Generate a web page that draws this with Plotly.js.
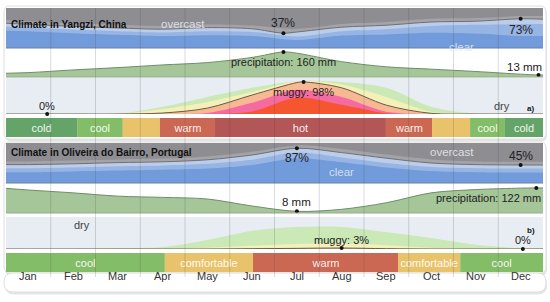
<!DOCTYPE html>
<html><head><meta charset="utf-8">
<script src="https://cdn.plot.ly/plotly-3.0.1.min.js"></script>
<style>html,body{margin:0;padding:0;background:#fff;}#chart{width:550px;height:302px;}</style>
</head><body><div id="chart"></div>
<script>
// ---------- DATA ----------
const months = ['Jan','Feb','Mar','Apr','May','Jun','Jul','Aug','Sep','Oct','Nov','Dec'];
// sample positions (month units): year start, mid-months, year end
const xs = [0, 0.5, 1.5, 2.5, 3.5, 4.5, 5.5, 6.5, 7.5, 8.5, 9.5, 10.5, 11.5, 12];

// Yangzi cloud cover, cumulative % from bottom
const cloudA_mostlyCloudy = [70, 67, 62, 58, 55, 59, 56, 48, 60, 65, 73, 75, 80, 80];
const cloudA_line         = [62, 59, 54, 50, 47, 51, 48, 40, 52, 57, 65, 67, 73, 72];
const cloudA_mostlyClear  = [53, 51, 46, 42, 39, 42, 40, 29, 42, 47, 55, 58, 60, 60];
const cloudA_clear        = [43, 42, 37, 33, 30, 32, 30, 20, 31, 34, 38, 36, 30, 30];
const cloudA_markX = [6.2, 11.5];
const cloudA_markV = [37, 73];

// Yangzi precipitation (mm)
const precipA = [24, 28, 45, 60, 77, 92, 125, 152, 98, 65, 50, 35, 18, 13];
const precipA_markX = [6.2, 11.9];
const precipA_markV = [160, 13];

// Yangzi humidity comfort, cumulative %
const muggyA_comfortable = [0, 0, 0, 1, 22, 52, 80, 100, 98, 80, 22, 1, 0, 0];
const muggyA_humid       = [0, 0, 0, 0, 15, 37, 67, 99.5, 90, 52, 7, 0, 0, 0];
const muggyA_muggy       = [0, 0, 0, 0, 3, 18, 58, 96, 80, 27, 2, 0, 0, 0];
const muggyA_oppressive  = [0, 0, 0, 0, 0, 3, 34, 74, 52, 7, 0, 0, 0, 0];
const muggyA_miserable   = [0, 0, 0, 0, 0, 0, 8, 50, 28, 2, 0, 0, 0, 0];
const muggyA_markX = [0.92, 6.65];
const muggyA_markV = [0, 98];

// Yangzi temperature bands
const tempA_kinds = ['cold','cool','comfortable','warm','hot','warm','comfortable','cool','cold'];
const tempA_text  = ['cold','cool','','warm','hot','warm','','cool','cold'];
const tempA_edges = [0, 1.59, 2.61, 3.44, 4.67, 8.49, 9.52, 10.37, 11.15, 12];

// Oliveira do Bairro cloud cover
const cloudB_mostlyCloudy = [54, 54, 56, 59, 61, 66, 78, 94, 85, 71, 59, 54, 53, 53];
const cloudB_line         = [46, 46, 48, 51, 53, 58, 70, 87, 76, 62, 50, 46, 45, 45];
const cloudB_mostlyClear  = [37, 37, 39, 42, 44, 48, 58, 76, 64, 50, 40, 37, 36, 36];
const cloudB_clear        = [27, 27, 29, 31, 33, 36, 45, 62, 52, 39, 30, 27, 26, 26];
const cloudB_markX = [6.5, 11.5];
const cloudB_markV = [87, 45];

// Oliveira do Bairro precipitation (mm)
const precipB = [120, 112, 98, 82, 76, 68, 34, 8, 18, 50, 98, 114, 121, 122];
const precipB_markX = [6.5, 11.85];
const precipB_markV = [8, 122];

// Oliveira do Bairro humidity comfort
const muggyB_comfortable = [0, 0, 0, 2, 6, 28, 57, 69, 69, 53, 34, 13, 3, 2];
const muggyB_humid       = [0, 0, 0, 0, 1, 4, 10, 16, 18, 12, 4, 1, 0, 0];
const muggyB_muggy       = [0, 0, 0, 0, 0, 0, 1, 2, 3, 1, 0, 0, 0, 0];
const muggyB_markX = [7.5, 11.55];
const muggyB_markV = [3, 0];

// Oliveira do Bairro temperature bands
const tempB_kinds = ['cool','comfortable','warm','comfortable','cool'];
const tempB_text  = ['cool','comfortable','warm','comfortable','cool'];
const tempB_edges = [0, 3.55, 5.52, 8.76, 10.15, 12];

// ---------- STYLE / LAYOUT ----------
const W = 550, H = 302;
const FONT = 'Liberation Sans, Arial, Helvetica, sans-serif';
const PX = p => p / W, PY = p => 1 - p / H;
const dom = (t, b) => [1 - b / H, 1 - t / H];
const tempColors = {cold:'#65a469', cool:'#84bd67', comfortable:'#e8c36c', warm:'#cb6853', hot:'#b25656'};

function withMarks(x, y, mx, mv) {
  const pts = x.map((v, i) => [v, y[i]]);
  mx.forEach((v, i) => {
    const k = pts.findIndex(p => Math.abs(p[0] - v) < 1e-9);
    if (k >= 0) pts[k][1] = mv[i]; else pts.push([v, mv[i]]);
  });
  pts.sort((a, b) => a[0] - b[0]);
  return {x: pts.map(p => p[0]), y: pts.map(p => p[1])};
}

const traces = [];
function area(x, y, yaxis, fill, line) {
  traces.push({type:'scatter', mode:'lines', x, y, yaxis, xaxis:'x', fill:'tozeroy',
    fillcolor: fill, line: line || {width:0, shape:'spline', smoothing:0.9},
    hoverinfo:'skip', showlegend:false});
}
function markers(x, y, yaxis) {
  traces.push({type:'scatter', mode:'markers', x, y, yaxis, xaxis:'x',
    marker:{size:4, color:'#111'}, hoverinfo:'skip', showlegend:false, cliponaxis:false});
}
const mainLine = c => ({width:1, color:c, shape:'spline', smoothing:0.9});

// cloud A
area(xs, cloudA_mostlyCloudy, 'y', '#a3a3a8');
let m = withMarks(xs, cloudA_line, cloudA_markX, cloudA_markV);
area(m.x, m.y, 'y', '#bccde9', mainLine('#707076'));
area(xs, cloudA_mostlyClear, 'y', '#97b5e4');
area(xs, cloudA_clear, 'y', '#719bda');
markers(cloudA_markX, cloudA_markV, 'y');
// precip A
m = withMarks(xs, precipA, precipA_markX, precipA_markV);
area(m.x, m.y, 'y2', '#a5c698', mainLine('#6f8d69'));
markers(precipA_markX, precipA_markV, 'y2');
// muggy A
area(xs, muggyA_comfortable, 'y3', '#cbe9b6');
area(xs, muggyA_humid, 'y3', '#f3f1b8');
m = withMarks(xs, muggyA_muggy, muggyA_markX, muggyA_markV);
area(m.x, m.y, 'y3', '#f8b894', mainLine('#6a5a48'));
area(xs, muggyA_oppressive, 'y3', '#f56aa0');
area(xs, muggyA_miserable, 'y3', '#f5562f');
markers(muggyA_markX, muggyA_markV, 'y3');

// cloud B
area(xs, cloudB_mostlyCloudy, 'y5', '#a3a3a8');
m = withMarks(xs, cloudB_line, cloudB_markX, cloudB_markV);
area(m.x, m.y, 'y5', '#bccde9', mainLine('#707076'));
area(xs, cloudB_mostlyClear, 'y5', '#97b5e4');
area(xs, cloudB_clear, 'y5', '#719bda');
markers(cloudB_markX, cloudB_markV, 'y5');
// precip B
m = withMarks(xs, precipB, precipB_markX, precipB_markV);
area(m.x, m.y, 'y6', '#a5c698', mainLine('#6f8d69'));
markers(precipB_markX, precipB_markV, 'y6');
// muggy B
area(xs, muggyB_comfortable, 'y7', '#cbe9b6');
area(xs, muggyB_humid, 'y7', '#f3f1b8');
m = withMarks(xs, muggyB_muggy, muggyB_markX, muggyB_markV);
area(m.x, m.y, 'y7', '#f8b894', mainLine('#6a5a48'));
markers(muggyB_markX, muggyB_markV, 'y7');

// temperature bands
function tempBars(edges, kinds, text, yaxis) {
  traces.push({type:'bar', orientation:'h', yaxis, xaxis:'x',
    y: kinds.map(() => 0.5), base: edges.slice(0, -1),
    x: edges.slice(1).map((e, i) => e - edges[i]),
    width: 1, marker:{color: kinds.map(k => tempColors[k]), line:{width:0}},
    text, textposition:'inside', insidetextanchor:'middle', textangle:0, constraintext:'none',
    textfont:{family:FONT, size:11, color:'rgba(255,255,255,0.92)'},
    hoverinfo:'skip', showlegend:false});
}
tempBars(tempA_edges, tempA_kinds, tempA_text, 'y4');
tempBars(tempB_edges, tempB_kinds, tempB_text, 'y8');

// ---------- shapes ----------
function roundRect(x0, y0, x1, y1, r) {
  const X = PX, Y = PY;
  return `M${X(x0+r)},${Y(y0)} L${X(x1-r)},${Y(y0)} Q${X(x1)},${Y(y0)} ${X(x1)},${Y(y0+r)} ` +
    `L${X(x1)},${Y(y1-r)} Q${X(x1)},${Y(y1)} ${X(x1-r)},${Y(y1)} L${X(x0+r)},${Y(y1)} ` +
    `Q${X(x0)},${Y(y1)} ${X(x0)},${Y(y1-r)} L${X(x0)},${Y(y0+r)} Q${X(x0)},${Y(y0)} ${X(x0+r)},${Y(y0)} Z`;
}
const shapes = [];
function frame(x0, y0, x1, y1, r) {
  shapes.push({type:'path', xref:'paper', yref:'paper', path: roundRect(x0+1, y0+2, x1+1, y1+2.5, r),
    fillcolor:'rgba(0,0,0,0.10)', line:{width:0}, layer:'below'});
  shapes.push({type:'path', xref:'paper', yref:'paper', path: roundRect(x0, y0, x1, y1, r),
    fillcolor:'#ffffff', line:{width:1, color:'#dedede'}, layer:'below'});
}
frame(4, 6, 546, 139, 6);
frame(4, 142, 546, 273, 6);
frame(4, 273, 546, 292, 9);

['y', 'y5'].forEach(a => shapes.push({type:'rect', xref:'x', yref:a+' domain', x0:0, x1:12, y0:0, y1:1,
  fillcolor:'#8d8d92', line:{width:0}, layer:'below'}));
['y3', 'y7'].forEach(a => shapes.push({type:'rect', xref:'x', yref:a+' domain', x0:0, x1:12, y0:0, y1:1,
  fillcolor:'#e7edf3', line:{width:0}, layer:'below'}));
// separator lines
['y', 'y5'].forEach(a => shapes.push({type:'line', xref:'x', yref:a+' domain', x0:0, x1:12, y0:0, y1:0,
  line:{width:1, color:'#6a7ea2'}, layer:'above'}));
['y2', 'y6'].forEach(a => shapes.push({type:'line', xref:'x', yref:a+' domain', x0:0, x1:12, y0:0, y1:0,
  line:{width:1, color:'#9aa895'}, layer:'above'}));
// month gridlines
for (let i = 1; i < 12; i++) {
  shapes.push({type:'line', xref:'x', yref:'paper', x0:i, x1:i, y0:PY(277), y1:PY(8),
    line:{width:1, color:'rgba(70,70,70,0.2)'}, layer:'above'});
}

// ---------- annotations ----------
const annotations = [];
const f = (size, color, weight) => ({family:FONT, size, color, weight: weight || 'normal'});
function ann(o) { annotations.push(Object.assign({showarrow:false, xref:'x', font:f(11, '#222')}, o)); }

ann({xref:'paper', yref:'paper', x:PX(9), y:PY(17), xanchor:'left', text:'<b>Climate in Yangzi, China</b>', font:f(10, '#111')});
ann({xref:'paper', yref:'paper', x:PX(9), y:PY(152), xanchor:'left', text:'<b>Climate in Oliveira do Bairro, Portugal</b>', font:f(10, '#111')});
ann({xref:'paper', yref:'paper', x:PX(159), y:PY(16), text:'overcast', font:f(11.5, 'rgba(232,232,238,0.9)')});
ann({xref:'paper', yref:'paper', x:PX(476), y:PY(39), text:'clear', font:f(11.5, 'rgba(220,230,246,0.9)')});
ann({xref:'paper', yref:'paper', x:PX(476), y:PY(152), text:'overcast', font:f(11.5, 'rgba(232,232,238,0.9)')});
ann({xref:'paper', yref:'paper', x:PX(341), y:PY(172), text:'clear', font:f(11.5, 'rgba(220,230,246,0.9)')});
ann({xref:'paper', yref:'paper', x:PX(512), y:PY(98), text:'dry', font:f(11, '#444')});
ann({xref:'paper', yref:'paper', x:PX(72), y:PY(233), text:'dry', font:f(11, '#444')});
ann({xref:'paper', yref:'paper', x:PX(536), y:PY(108), text:'<b>a)</b>', font:f(8, '#111')});
ann({xref:'paper', yref:'paper', x:PX(537), y:PY(237), text:'<b>b)</b>', font:f(8, '#111')});

// value labels
ann({yref:'y', x:cloudA_markX[0], y:cloudA_markV[0], text:cloudA_markV[0]+'%', yshift:10, font:f(12, '#222')});
ann({yref:'y', x:cloudA_markX[1], y:cloudA_markV[1], text:cloudA_markV[1]+'%', yshift:-11, font:f(12, '#222')});
ann({yref:'y5', x:cloudB_markX[0], y:cloudB_markV[0], text:cloudB_markV[0]+'%', yshift:-10, font:f(12, '#222')});
ann({yref:'y5', x:cloudB_markX[1], y:cloudB_markV[1], text:cloudB_markV[1]+'%', yshift:9, font:f(12, '#222')});
ann({yref:'y2', x:precipA_markX[0], y:precipA_markV[0], text:'precipitation: '+precipA_markV[0]+' mm', yshift:-10});
ann({yref:'y2', x:precipA_markX[1], y:precipA_markV[1], text:precipA_markV[1]+' mm', xanchor:'right', xshift:5, yshift:8, font:f(11.5, '#222')});
ann({yref:'y6', x:precipB_markX[0], y:precipB_markV[0], text:precipB_markV[0]+' mm', yshift:9, font:f(11.5, '#222')});
ann({yref:'y6', x:precipB_markX[1], y:precipB_markV[1], text:'precipitation: '+precipB_markV[1]+' mm', xanchor:'right', xshift:7, yshift:-10});
ann({yref:'y3', x:muggyA_markX[0], y:muggyA_markV[0], text:muggyA_markV[0]+'%', yshift:8});
ann({yref:'y3', x:muggyA_markX[1], y:muggyA_markV[1], text:'muggy: '+muggyA_markV[1]+'%', yshift:-10});
ann({yref:'y7', x:muggyB_markX[0], y:muggyB_markV[0], text:'muggy: '+muggyB_markV[0]+'%', yshift:8});
ann({yref:'y7', x:muggyB_markX[1], y:muggyB_markV[1], text:muggyB_markV[1]+'%', yshift:9});

months.forEach((mo, i) => ann({yref:'paper', x:i + 0.5, y:PY(284), text:mo, font:f(11, '#333')}));

const yax = (t, b, r) => ({domain:dom(t, b), range:r, visible:false, fixedrange:true, anchor:'x'});
const layout = {
  width:W, height:H, margin:{l:0, r:0, t:0, b:0},
  paper_bgcolor:'#ffffff', plot_bgcolor:'rgba(0,0,0,0)',
  showlegend:false, hovermode:false, barmode:'overlay',
  font:{family:FONT},
  xaxis:{domain:[PX(6), PX(543)], range:[0, 12], visible:false, fixedrange:true, anchor:'y'},
  yaxis: yax(8, 48, [0, 100]),
  yaxis2: yax(48, 77, [0, 185]),
  yaxis3: yax(78, 114, [0, 110]),
  yaxis4: yax(118, 137, [0, 1]),
  yaxis5: yax(143, 183, [0, 100]),
  yaxis6: yax(183, 213, [0, 146]),
  yaxis7: yax(217, 249, [0, 100]),
  yaxis8: yax(253, 272, [0, 1]),
  shapes, annotations
};
Plotly.newPlot('chart', traces, layout, {staticPlot:true, displayModeBar:false});
</script></body></html>
